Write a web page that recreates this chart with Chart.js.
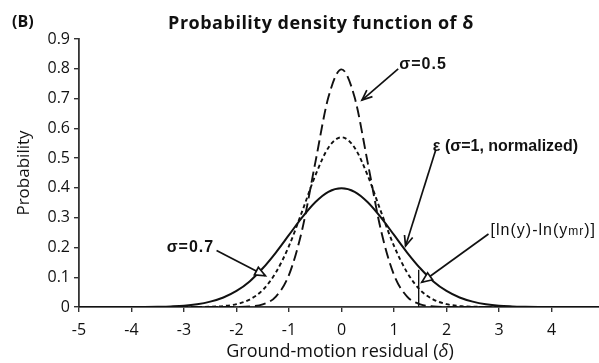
<!DOCTYPE html>
<html>
<head>
<meta charset="utf-8">
<script src="https://cdn.jsdelivr.net/npm/chart.js@4/dist/chart.umd.min.js"></script>
<style>
html,body{margin:0;padding:0;background:#fff;overflow:hidden;}
#wrap{width:620px;height:363px;}
</style>
</head>
<body>
<div id="wrap"><canvas id="c" width="620" height="363"></canvas></div>
<script>
// residual values (delta)
const deltas = [-5,-4.75,-4.5,-4.25,-4,-3.75,-3.5,-3.25,-3,-2.75,-2.5,-2.25,-2,-1.75,-1.5,-1.25,-1,-0.75,-0.5,-0.25,0,0.25,0.5,0.75,1,1.25,1.5,1.75,2,2.25,2.5,2.75,3,3.25,3.5,3.75,4,4.25,4.5,4.75,5];
// epsilon (sigma = 1, normalized) - solid
const sigma10 = [0,0,0,0,0.0001,0.0004,0.001,0.002,0.004,0.009,0.018,0.032,0.054,0.086,0.130,0.183,0.242,0.301,0.352,0.387,0.399,0.387,0.352,0.301,0.242,0.183,0.130,0.086,0.054,0.032,0.018,0.009,0.004,0.002,0.001,0.0004,0.0001,0,0,0,0];
// sigma = 0.7 - short dash
const sigma07 = [0,0,0,0,0,0,0,0,0.0001,0.0003,0.001,0.0032,0.0096,0.025,0.057,0.116,0.205,0.321,0.441,0.535,0.570,0.535,0.441,0.321,0.205,0.116,0.057,0.025,0.0096,0.0032,0.001,0.0003,0.0001,0,0,0,0,0,0,0,0];
// sigma = 0.5 - long dash
const sigma05 = [0,0,0,0,0,0,0,0,0,0,0,0,0.0003,0.0017,0.0089,0.035,0.108,0.259,0.484,0.704,0.798,0.704,0.484,0.259,0.108,0.035,0.0089,0.0017,0.0003,0,0,0,0,0,0,0,0,0,0,0,0];
const xTicks = [-5,-4,-3,-2,-1,0,1,2,3,4,5];
const yTicks = [0,0.1,0.2,0.3,0.4,0.5,0.6,0.7,0.8,0.9];

const titleText = 'Probability density function of δ';
const xTitle = 'Ground-motion residual (';
const yTitle = 'Probability';
const panelLabel = '(B)';

function pts(ys){ return deltas.map((d,i)=>({x:d,y:ys[i]})); }

const FONT = '"Open Sans", "DejaVu Sans", sans-serif';
const ANN = '"Liberation Sans", Arial, sans-serif';

function arrow(ctx, x1,y1,x2,y2, type){
  ctx.save();
  ctx.strokeStyle='#111'; ctx.lineWidth=1.7;
  ctx.beginPath(); ctx.moveTo(x1,y1); ctx.lineTo(x2,y2); ctx.stroke();
  const a = Math.atan2(y2-y1, x2-x1);
  const L = 11, w = 0.4;
  const p1=[x2-L*Math.cos(a-w), y2-L*Math.sin(a-w)];
  const p2=[x2-L*Math.cos(a+w), y2-L*Math.sin(a+w)];
  ctx.beginPath();
  if(type==='tri'){
    ctx.moveTo(p1[0],p1[1]); ctx.lineTo(x2,y2); ctx.lineTo(p2[0],p2[1]); ctx.closePath();
    ctx.fillStyle='#fff'; ctx.fill(); ctx.stroke();
  } else {
    ctx.moveTo(p1[0],p1[1]); ctx.lineTo(x2,y2); ctx.lineTo(p2[0],p2[1]); ctx.stroke();
  }
  ctx.restore();
}

const annot = {
  id:'annot',
  afterDraw(chart){
    const ctx = chart.ctx, xs = chart.scales.x, ys = chart.scales.y;
    const X = v=>xs.getPixelForValue(v), Y = v=>ys.getPixelForValue(v);
    ctx.save();
    ctx.fillStyle='#111';
    // panel label
    ctx.font = 'bold 16px '+FONT; ctx.textAlign='left'; ctx.textBaseline='middle';
    ctx.fillText(panelLabel, 12, 22);
    // title
    ctx.font = 'bold 18px '+FONT; ctx.textAlign='center';
    ctx.letterSpacing = '0.5px';
    ctx.fillText(titleText, 321, 24);
    ctx.letterSpacing = '0px';
    // x title with italic delta
    ctx.font = '18px '+FONT;
    const w1 = ctx.measureText(xTitle).width;
    ctx.font = 'italic 18px '+FONT;
    const w2 = ctx.measureText('δ').width;
    ctx.font = '18px '+FONT;
    const w3 = ctx.measureText(')').width;
    let sx = 340 - (w1+w2+w3)/2;
    ctx.textAlign='left';
    ctx.fillText(xTitle, sx, 352);
    ctx.font = 'italic 18px '+FONT; ctx.fillText('δ', sx+w1, 352);
    ctx.font = '18px '+FONT; ctx.fillText(')', sx+w1+w2, 352);
    // y title
    ctx.save();
    ctx.translate(24, 173); ctx.rotate(-Math.PI/2);
    ctx.font = '17px '+FONT; ctx.textAlign='center';
    ctx.fillText(yTitle, 0, 0);
    ctx.restore();

    // vertical marker at delta = 1.47
    ctx.strokeStyle='#111'; ctx.lineWidth=1.4;
    ctx.beginPath(); ctx.moveTo(X(1.47), Y(0)); ctx.lineTo(X(1.47), Y(0.125)); ctx.stroke();

    // annotation labels
    ctx.textAlign='left'; ctx.textBaseline='middle';
    ctx.font = 'bold 16px '+ANN;
    ctx.fillText('ε (σ=1, normalized)', X(1.74), Y(0.54));
    ctx.letterSpacing = '1px';
    ctx.fillText('σ=0.5', X(1.1), Y(0.815));
    ctx.fillText('σ=0.7', X(-3.33), Y(0.198));
    ctx.font = '16px '+ANN;
    let lx = X(2.84), ly = Y(0.258);
    const s1 = '[ln(y)-ln(y';
    ctx.fillText(s1, lx, ly);
    let ww = ctx.measureText(s1).width;
    ctx.font = '12px '+ANN;
    ctx.fillText('mr', lx+ww, ly+2);
    ww += ctx.measureText('mr').width;
    ctx.font = '16px '+ANN;
    ctx.fillText(')]', lx+ww, ly);
    ctx.letterSpacing = '0px';

    arrow(ctx, X(1.08), Y(0.80), X(0.39), Y(0.695), 'open');
    arrow(ctx, X(1.79), Y(0.525), X(1.22), Y(0.205), 'open');
    arrow(ctx, X(2.8), Y(0.245), X(1.53), Y(0.083), 'tri');
    arrow(ctx, X(-2.38), Y(0.19), X(-1.45), Y(0.105), 'tri');
    ctx.restore();
  }
};

new Chart(document.getElementById('c'), {
  type:'line',
  data:{
    datasets:[
      {label:'σ=1', data:pts(sigma10), borderColor:'#111', borderWidth:2, pointRadius:0, cubicInterpolationMode:'monotone', fill:false},
      {label:'σ=0.7', data:pts(sigma07), borderColor:'#111', borderWidth:1.9, borderDash:[4,3], pointRadius:0, cubicInterpolationMode:'monotone', fill:false},
      {label:'σ=0.5', data:pts(sigma05), borderColor:'#111', borderWidth:1.9, borderDash:[11,5], pointRadius:0, cubicInterpolationMode:'monotone', fill:false}
    ]
  },
  options:{
    responsive:false, animation:false,
    layout:{padding:{top:39, right:16, left:0, bottom:0}},
    plugins:{legend:{display:false}, title:{display:false}, tooltip:{enabled:false}},
    scales:{
      x:{type:'linear', min:-5, max:5,
        afterBuildTicks(s){ s.ticks = xTicks.map(v=>({value:v})); },
        afterFit(s){ s.height = 56; },
        grid:{drawOnChartArea:false, drawTicks:true, tickLength:5, color:'#333', lineWidth:1.4},
        border:{color:'#333', width:1.8},
        ticks:{color:'#111', padding:9, maxRotation:0, autoSkip:false, font:{family:FONT, size:16}, callback:v=>String(v)}
      },
      y:{min:0, max:0.9,
        afterBuildTicks(s){ s.ticks = yTicks.map(v=>({value:v})); },
        afterFit(s){ s.width = 79; },
        grid:{drawOnChartArea:false, drawTicks:true, tickLength:5, color:'#333', lineWidth:1.4},
        border:{color:'#333', width:1.8},
        ticks:{color:'#111', padding:4, font:{family:FONT, size:16}, callback:v=>v===0?'0':v.toFixed(1)}
      }
    }
  },
  plugins:[annot]
});
</script>
</body>
</html>
